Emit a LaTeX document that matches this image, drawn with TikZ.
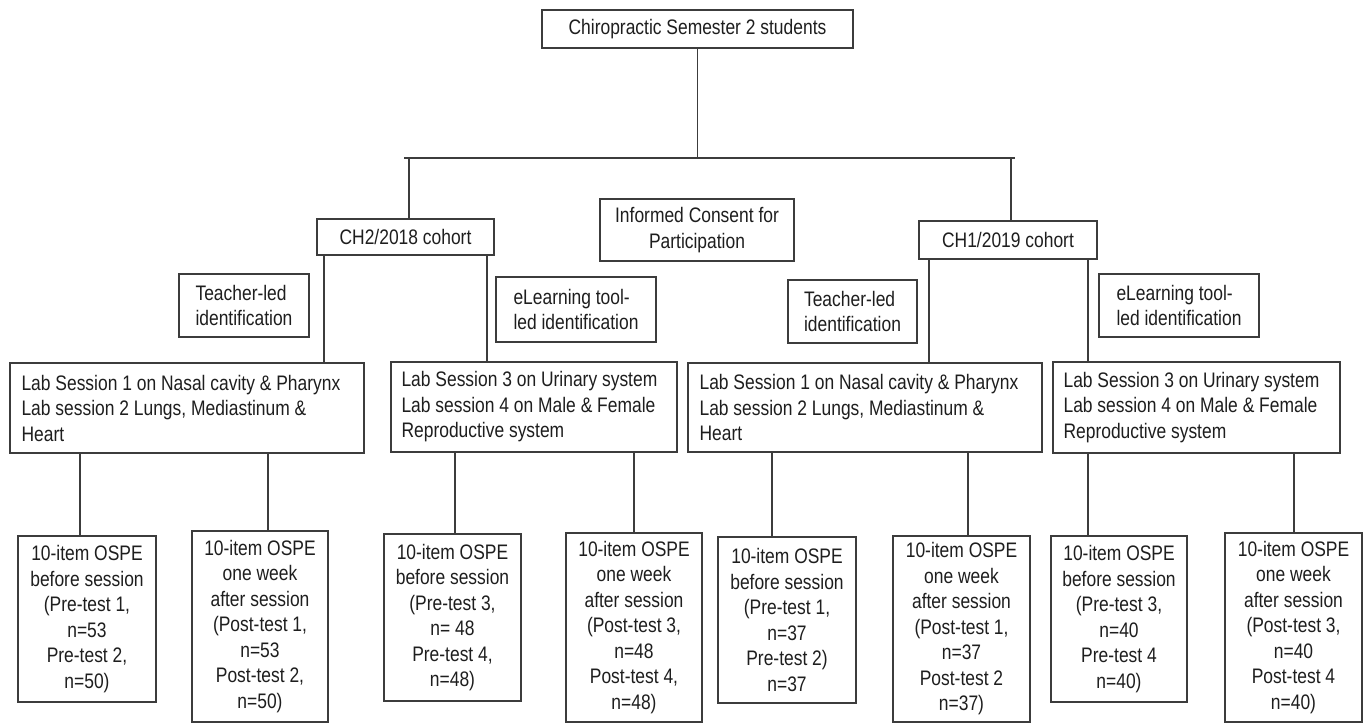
\documentclass[tikz,border=0pt]{standalone}
\usepackage{fontspec}
\setmainfont{Liberation Sans}[FakeStretch=0.83]
\definecolor{ln}{HTML}{3C3C3C}
\definecolor{txt}{HTML}{1E1E1E}
\newcommand\diagfont{\fontsize{21}{25.5}\selectfont}
\tikzset{
  box/.style={draw=ln, line width=1.3pt, inner sep=0pt, text=txt, font=\diagfont, align=center},
  leftbox/.style={box, align=left},
  labtext/.style={inner sep=0pt, text=txt, font=\diagfont, align=left, anchor=west},
  conn/.style={draw=ln, line width=1.3pt},
}
\begin{document}
\begin{tikzpicture}[x=1pt, y=-1pt]
\useasboundingbox[fill=white] (0,0) rectangle (1364,723);

% top
\node[box, minimum width=311pt, minimum height=38pt] (top) at (697.5,29) {Chiropractic Semester 2 students};

% cohorts
\node[box, minimum width=177pt, minimum height=36pt] (ch2) at (405.5,237) {CH2/2018 cohort};
\node[box, minimum width=194pt, minimum height=62pt] (ic) at (697,230) {Informed Consent for\\Participation};
\node[box, minimum width=178pt, minimum height=38pt] (ch1) at (1008,240) {CH1/2019 cohort};

% methods
\node[leftbox, minimum width=130pt, minimum height=63pt] (t1) at (244,305.5) {Teacher-led\\identification};
\node[leftbox, minimum width=160pt, minimum height=65pt] (e1) at (576,309.5) {eLearning tool-\\led identification};
\node[leftbox, minimum width=129pt, minimum height=63pt] (t2) at (852.5,311.5) {Teacher-led\\identification};
\node[leftbox, minimum width=160pt, minimum height=63pt] (e2) at (1179,305.5) {eLearning tool-\\led identification};

% lab sessions (box + text)
\node[box, minimum width=354pt, minimum height=90pt] (lab1) at (187,408) {};
\node[labtext] (lab1t) at ([xshift=12pt]lab1.west)
  {Lab Session 1 on Nasal cavity \& Pharynx\\Lab session 2 Lungs, Mediastinum \&\\Heart};
\node[box, minimum width=286pt, minimum height=90pt] (lab2) at (534,407) {};
\node[labtext] (lab2t) at ([xshift=11pt]lab2.west)
  {Lab Session 3 on Urinary system\\Lab session 4 on Male \& Female\\Reproductive system};
\node[box, minimum width=354pt, minimum height=89pt] (lab3) at (865,407.5) {};
\node[labtext] (lab3t) at ([xshift=12pt]lab3.west)
  {Lab Session 1 on Nasal cavity \& Pharynx\\Lab session 2 Lungs, Mediastinum \&\\Heart};
\node[box, minimum width=287pt, minimum height=91pt] (lab4) at (1196.5,407.5) {};
\node[labtext] (lab4t) at ([xshift=11pt]lab4.west)
  {Lab Session 3 on Urinary system\\Lab session 4 on Male \& Female\\Reproductive system};

% OSPE boxes
\node[box, minimum width=138pt, minimum height=166pt] (o1) at (87,619)
  {10-item OSPE\\before session\\(Pre-test 1,\\n=53\\Pre-test 2,\\n=50)};
\node[box, minimum width=136pt, minimum height=191pt] (o2) at (260,626.5)
  {10-item OSPE\\one week\\after session\\(Post-test 1,\\n=53\\Post-test 2,\\n=50)};
\node[box, minimum width=137pt, minimum height=167pt] (o3) at (452.5,617.5)
  {10-item OSPE\\before session\\(Pre-test 3,\\n= 48\\Pre-test 4,\\n=48)};
\node[box, minimum width=136pt, minimum height=189pt] (o4) at (634,627.5)
  {10-item OSPE\\one week\\after session\\(Post-test 3,\\n=48\\Post-test 4,\\n=48)};
\node[box, minimum width=138pt, minimum height=166pt] (o5) at (787,620)
  {10-item OSPE\\before session\\(Pre-test 1,\\n=37\\Pre-test 2)\\n=37};
\node[box, minimum width=137pt, minimum height=186pt] (o6) at (961.5,629)
  {10-item OSPE\\one week\\after session\\(Post-test 1,\\n=37\\Post-test 2\\n=37)};
\node[box, minimum width=136pt, minimum height=166pt] (o7) at (1119,619)
  {10-item OSPE\\before session\\(Pre-test 3,\\n=40\\Pre-test 4\\n=40)};
\node[box, minimum width=137pt, minimum height=189pt] (o8) at (1293.5,627.5)
  {10-item OSPE\\one week\\after session\\(Post-test 3,\\n=40\\Post-test 4\\n=40)};

% bus
\coordinate (bL) at (404,158);
\coordinate (bR) at (1015,158);
\coordinate (dL) at (409,158);
\coordinate (dR) at (1011,158);
\draw[conn] (bL) -- (bR);
\draw[conn] (top.south) -- (top.south |- bL);
\draw[conn] (dL) -- (dL |- ch2.north);
\draw[conn] (dR) -- (dR |- ch1.north);

% cohort to labs
\coordinate (k1) at (324,0);
\coordinate (k2) at (487,0);
\coordinate (k3) at (929,0);
\coordinate (k4) at (1088,0);
\draw[conn] (k1 |- ch2.south) -- (k1 |- lab1.north);
\draw[conn] (k2 |- ch2.south) -- (k2 |- lab2.north);
\draw[conn] (k3 |- ch1.south) -- (k3 |- lab3.north);
\draw[conn] (k4 |- ch1.south) -- (k4 |- lab4.north);

% labs to OSPE
\coordinate (p1) at (80,0);
\coordinate (p2) at (268,0);
\coordinate (p3) at (455,0);
\coordinate (p4) at (634,0);
\coordinate (p5) at (772,0);
\coordinate (p6) at (968,0);
\coordinate (p7) at (1088,0);
\coordinate (p8) at (1294,0);
\draw[conn] (p1 |- lab1.south) -- (p1 |- o1.north);
\draw[conn] (p2 |- lab1.south) -- (p2 |- o2.north);
\draw[conn] (p3 |- lab2.south) -- (p3 |- o3.north);
\draw[conn] (p4 |- lab2.south) -- (p4 |- o4.north);
\draw[conn] (p5 |- lab3.south) -- (p5 |- o5.north);
\draw[conn] (p6 |- lab3.south) -- (p6 |- o6.north);
\draw[conn] (p7 |- lab4.south) -- (p7 |- o7.north);
\draw[conn] (p8 |- lab4.south) -- (p8 |- o8.north);
\end{tikzpicture}
\end{document}
